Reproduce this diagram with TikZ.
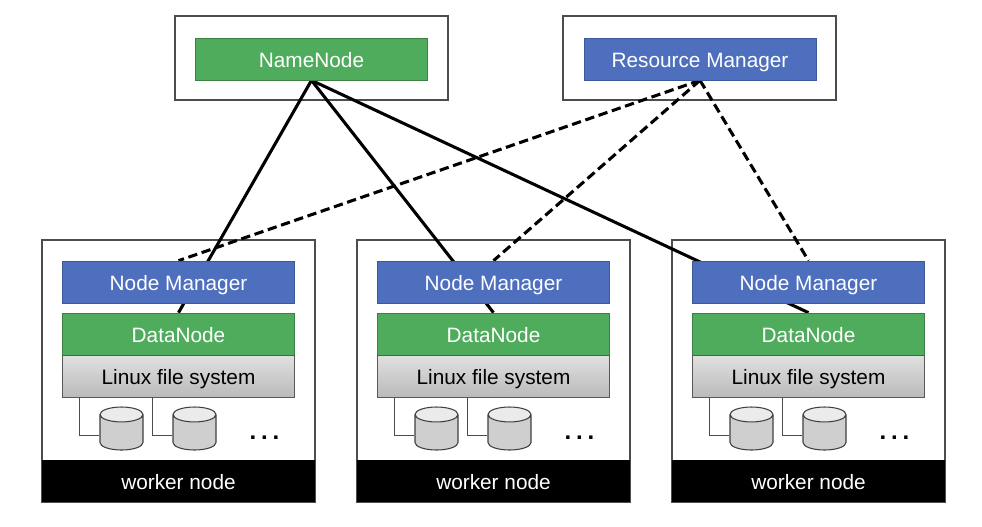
\documentclass[tikz,border=0pt]{standalone}
\usepackage{fontspec}
\setmainfont{Liberation Sans}
\usetikzlibrary{shapes.geometric,backgrounds}

\definecolor{hdfsgreen}{HTML}{4FAC5C}
\definecolor{yarnblue}{HTML}{4D6FBE}

\def\px{0.75pt}

\tikzset{
    hostbox/.style={draw=black!70, fill=white, line width=0.9pt, minimum width=273*\px, minimum height=84*\px, inner sep=0pt},
    workerbox/.style={hostbox, minimum height=262*\px},
    daemon/.style={minimum width=232*\px, minimum height=42*\px, inner sep=0pt, text=white, text height=14pt, text depth=2pt, font=\fontsize{15.6}{18}\selectfont},
    namebox/.style={daemon, fill=hdfsgreen, draw=hdfsgreen!75!black, line width=0.5pt},
    yarnbox/.style={daemon, fill=yarnblue, draw=yarnblue!80!black, line width=0.5pt},
    fsbox/.style={daemon, text=black, draw=black!65, line width=0.5pt, top color=black!12, bottom color=black!27},
    tagbox/.style={minimum width=273*\px, minimum height=42*\px, inner sep=0pt, fill=black, text=white, text height=14pt, text depth=2pt, font=\fontsize{15.6}{18}\selectfont},
    disk/.style={cylinder, shape border rotate=90, shape aspect=1.12, draw=black!75, line width=0.8pt, minimum width=43*\px, minimum height=43*\px, inner sep=5pt, cylinder uses custom fill, cylinder end fill=black!8, cylinder body fill=black!19},
    hdfslink/.style={line width=2.3pt},
    yarnlink/.style={line width=2.3pt, dash pattern=on 7pt off 3.5pt},
    disklink/.style={draw=black!70, line width=0.8pt},
    dotsmark/.style={inner sep=0pt, font=\fontsize{18}{20}\selectfont\bfseries}
}

\begin{document}
\begin{tikzpicture}[x=\px, y=-\px]
    \useasboundingbox (0,0) rectangle (982,526);

    % master
    \begin{pgfonlayer}{background}
        \node[hostbox] (nnhost) at (311.5,58) {};
        \node[hostbox] (rmhost) at (699.5,58) {};
    \end{pgfonlayer}
    \node[namebox] (nn) at (311.5,59) {NameNode};
    \node[yarnbox] (rm) at (700,59) {Resource Manager};

    % workers
    \foreach \i/\xc in {1/178.5, 2/493.5, 3/808.5} {
        \begin{pgfonlayer}{background}
            \node[workerbox] (host\i) at (\xc,371) {};
        \end{pgfonlayer}
        \node[yarnbox] (nm\i) at (\xc,282) {Node Manager};
        \node[namebox] (dn\i) at (\xc,334) {DataNode};
        \node[fsbox] (fs\i) at (\xc,376) {Linux file system};
        \node[tagbox] (tag\i) at (\xc,481) {worker node};

        % disks
        \node[disk, anchor=shape center] (da\i) at (\xc-57,428.5) {};
        \node[disk, anchor=shape center] (db\i) at (\xc+16,428.5) {};
        \coordinate (ta\i) at (\xc-99,397);
        \coordinate (tb\i) at (\xc-26,397);
        \draw[disklink] (ta\i) |- (da\i.west);
        \draw[disklink] (tb\i) |- (db\i.west);
        \node[dotsmark] (more\i) at (\xc+86,438) {.\kern3.6pt.\kern3.6pt.};
    }

    % links
    \begin{pgfonlayer}{background}
        \foreach \i in {1,2,3} {
            \draw[hdfslink] (nn.south) -- (dn\i.north);
            \draw[yarnlink] (rm.south) -- (nm\i.north);
        }
    \end{pgfonlayer}
\end{tikzpicture}
\end{document}
